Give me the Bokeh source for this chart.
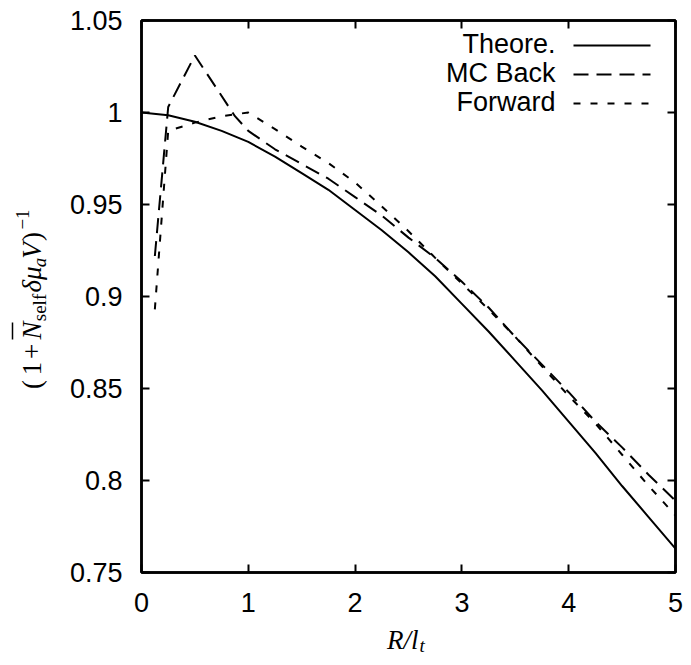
import math
from bokeh.plotting import figure
from bokeh.models import (Range1d, FixedTicker, LinearAxis, Label, Arrow,
                          CustomJSTickFormatter)
from bokeh.layouts import row, column
from bokeh.core.properties import value
from bokeh.embed import file_html
from bokeh.resources import INLINE

# ---------------- data ----------------
theory_x = [0.0, 0.25, 0.5, 0.75, 1.0, 1.25, 1.5, 1.75, 2.0, 2.25, 2.5,
            2.75, 3.0, 3.25, 3.5, 3.75, 4.0, 4.25, 4.5, 4.75, 5.0]
theory_y = [1.000, 0.9985, 0.995, 0.990, 0.984, 0.976, 0.967, 0.958, 0.947,
            0.936, 0.924, 0.911, 0.896, 0.881, 0.865, 0.849, 0.832, 0.815,
            0.797, 0.780, 0.763]

back_x = [0.125, 0.25, 0.5, 0.875, 1.0, 1.25, 1.5, 1.75, 2.0, 2.25, 2.5,
          2.75, 3.0, 3.25, 3.5, 3.75, 4.0, 4.25, 4.5, 4.75, 5.0]
back_y = [0.922, 1.003, 1.031, 0.998, 0.990, 0.980, 0.972, 0.964, 0.954,
          0.944, 0.932, 0.921, 0.908, 0.894, 0.878, 0.863, 0.848, 0.832,
          0.818, 0.803, 0.789]

fwd_x = [0.125, 0.25, 0.5, 0.75, 1.0, 1.25, 1.5, 1.75, 2.0, 2.25, 2.5,
         2.75, 3.0, 3.25, 3.5, 3.75, 4.0, 4.25, 4.5, 4.75, 5.0]
fwd_y = [0.893, 0.990, 0.9945, 0.998, 1.000, 0.991, 0.9815, 0.9725, 0.962,
         0.949, 0.9355, 0.921, 0.907, 0.893, 0.878, 0.862, 0.846, 0.831,
         0.814, 0.797, 0.781]

x_ticks = [0, 1, 2, 3, 4, 5]
x_tick_labels = ["0", "1", "2", "3", "4", "5"]
y_ticks = [0.75, 0.8, 0.85, 0.9, 0.95, 1.0, 1.05]
y_tick_labels = ["0.75", "0.8", "0.85", "0.9", "0.95", "1", "1.05"]
legend_labels = ["Theore.", "MC Back", "Forward"]

# ---------------- layout (picture pixel coordinates) ----------------
TOTAL_W, TOTAL_H = 683, 657
LEFT_W = 60                     # strip holding the rotated y label
MAIN_W = TOTAL_W - LEFT_W       # 623
FRAME_L, FRAME_R, FRAME_T, FRAME_B = 141, 675, 20, 572
MAIN_H = 622
BOTTOM_H = TOTAL_H - MAIN_H     # strip holding the x label

SANS = "Liberation Sans"
SERIF = "Liberation Serif"
FS = "27px"
SUBFS = "19px"

p = figure(width=MAIN_W, height=MAIN_H, x_range=Range1d(0, 5), y_range=Range1d(0.75, 1.05),
           output_backend="svg", toolbar_location=None,
           min_border_left=FRAME_L - LEFT_W, min_border_right=TOTAL_W - FRAME_R,
           min_border_top=FRAME_T, min_border_bottom=MAIN_H - FRAME_B)
p.xgrid.visible = False
p.ygrid.visible = False
p.background_fill_color = "white"
p.border_fill_color = "white"
p.outline_line_color = "black"
p.outline_line_width = 2.5

def sx(page_x):
    return page_x - FRAME_L

def sy(page_y):
    return FRAME_B - page_y

def style_axis(ax, show_labels):
    ax.axis_line_color = "black"
    ax.axis_line_width = 2.5
    ax.major_tick_in = 8
    ax.major_tick_out = 0
    ax.major_tick_line_width = 2
    ax.minor_tick_line_color = None
    if show_labels:
        ax.major_label_text_font = SANS
        ax.major_label_text_font_size = FS
        ax.major_label_text_color = "black"
    else:
        ax.formatter = CustomJSTickFormatter(code="return ''")
        ax.major_label_text_font_size = "1px"
        ax.major_label_standoff = 0

xa = p.xaxis[0]
xa.ticker = FixedTicker(ticks=x_ticks)
xa.major_label_overrides = dict(zip(x_ticks, x_tick_labels))
style_axis(xa, True)
xa.major_label_standoff = 20

ya = p.yaxis[0]
ya.ticker = FixedTicker(ticks=y_ticks)
ya.major_label_overrides = dict(zip(y_ticks, y_tick_labels))
style_axis(ya, True)
ya.major_label_standoff = 19

top = LinearAxis(ticker=FixedTicker(ticks=x_ticks))
style_axis(top, False)
p.add_layout(top, "above")
right = LinearAxis(ticker=FixedTicker(ticks=y_ticks))
style_axis(right, False)
p.add_layout(right, "right")

# ---------------- curves ----------------
p.line(theory_x, theory_y, line_color="black", line_width=2)
p.line(back_x, back_y, line_color="black", line_width=2, line_dash="15 8")
p.line(fwd_x, fwd_y, line_color="black", line_width=2, line_dash="7 10")

# ---------------- legend (gnuplot style: text then sample) ----------------
leg_rows_y = [43, 72, 101]
leg_dashes = ["solid", "15 8", "7 10"]
for lab, yy, dash in zip(legend_labels, leg_rows_y, leg_dashes):
    p.add_layout(Label(x=sx(555), y=sy(yy), x_units="screen", y_units="screen",
                       text=lab, text_font=SANS, text_font_size=FS,
                       text_align="right", text_baseline="middle",
                       text_color="black"))
    p.add_layout(Arrow(start=None, end=None,
                       x_start=sx(573), y_start=sy(yy + 2), x_end=sx(650), y_end=sy(yy + 2),
                       start_units="screen", end_units="screen",
                       line_color="black", line_width=2, line_dash=dash))

def strip(w, h, xr):
    f = figure(width=w, height=h, x_range=xr, y_range=Range1d(0, h),
               output_backend="svg", toolbar_location=None,
               x_axis_location=None, y_axis_location=None,
               min_border=0, outline_line_color=None)
    f.grid.visible = False
    return f

# ---------------- y label strip: (1 + N̄_self δμ_a V)^-1 ----------------
# text is anchored at the middle of its em box; x values are picture pixels
yl = strip(LEFT_W, TOTAL_H, Range1d(0, LEFT_W))
MAIN_CX, SUB_CX, SUP_CX = 31, 39, 22
ypieces = [
    ("(", 384, FS, "normal", MAIN_CX),
    ("1", 368, FS, "normal", MAIN_CX),
    ("+", 351, FS, "normal", MAIN_CX),
    ("N", 330, FS, "italic", MAIN_CX),
    ("self", 307, SUBFS, "normal", SUB_CX),
    ("δμ", 279, FS, "italic", MAIN_CX),
    ("a", 262, SUBFS, "italic", SUB_CX),
    ("V", 250, FS, "italic", MAIN_CX),
    (")", 236, FS, "normal", MAIN_CX),
    ("−1", 219, SUBFS, "normal", SUP_CX),
]
for txt, cy, fs, style, cx in ypieces:
    yl.text(x=[cx], y=[TOTAL_H - cy], text=[txt], angle=math.pi / 2,
            text_font=value(SERIF), text_font_style=value(style),
            text_font_size=value(fs), text_align="center",
            text_baseline="middle", text_color="black")
# overline over N
yl.segment(x0=[12], y0=[TOTAL_H - 339], x1=[12], y1=[TOTAL_H - 322],
           line_color="black", line_width=1.5)

# ---------------- x label strip: R/l_t (frame aligned with main frame) ----------------
xl = strip(MAIN_W, BOTTOM_H, Range1d(FRAME_L, FRAME_R))
xl.text(x=[418], y=[TOTAL_H - 639], text=["R/l"],
        text_font=value(SERIF), text_font_style=value("italic"),
        text_font_size=value(FS), text_align="right", text_baseline="middle",
        text_color="black")
xl.text(x=[419], y=[TOTAL_H - 645], text=["t"],
        text_font=value(SERIF), text_font_style=value("italic"),
        text_font_size=value(SUBFS), text_align="left", text_baseline="middle",
        text_color="black")

layout = row(yl, column(p, xl, spacing=0), spacing=0)
open("out.html", "w").write(file_html(layout, INLINE))
